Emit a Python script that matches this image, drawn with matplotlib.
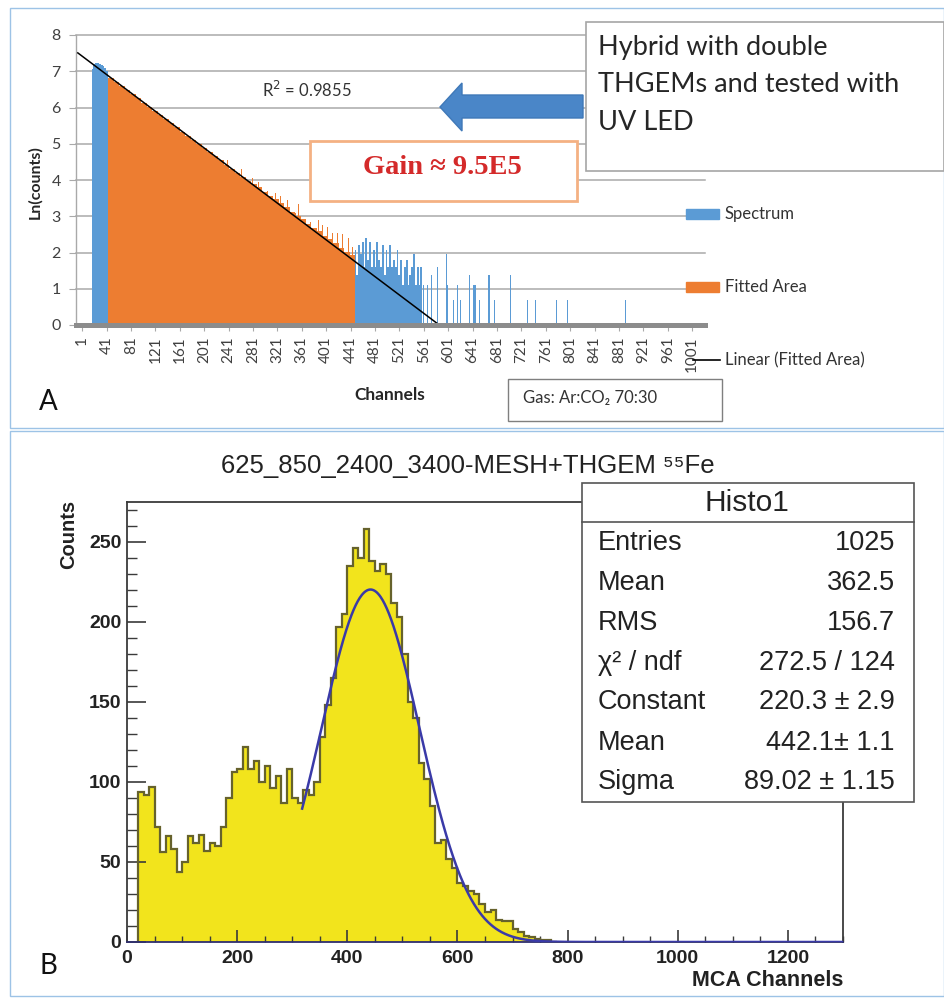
import numpy as np
import matplotlib
matplotlib.use("Agg")
import matplotlib.pyplot as plt
from matplotlib.patches import Rectangle, Polygon
from matplotlib.lines import Line2D

# ---------------- Panel A data (ln(counts) per MCA channel) ----------------
head_channels = [18, 21, 24, 27, 30, 33, 36, 39, 42]
head_values = [7.05, 7.20, 7.23, 7.22, 7.20, 7.18, 7.15, 7.10, 7.02]

fitted_start = 44
fitted_bin = 9
fitted_values = [6.82, 6.70, 6.59, 6.47, 6.36, 6.25, 6.13, 6.02, 5.90, 5.79,
                 5.68, 5.56, 5.45, 5.33, 5.22, 5.11, 4.99, 4.88, 4.76, 4.65,
                 4.54, 4.42, 4.31, 4.19, 4.08, 3.97, 3.90, 3.80, 3.68, 3.56,
                 3.48, 3.36, 3.26, 3.12, 3.02, 2.92, 2.80, 2.68, 2.58, 2.45,
                 2.36, 2.25, 2.12, 2.02, 1.92]
fitted_spike_channels = [240, 262, 281, 290, 305, 318, 326, 338, 350, 356,
                         368, 376, 388, 395, 404, 412, 420, 428, 437, 445]
fitted_spike_values = [4.55, 4.30, 4.05, 3.95, 3.70, 3.65, 3.55, 3.45, 3.10, 3.35,
                       2.95, 2.85, 2.90, 2.75, 2.70, 2.55, 2.55, 2.50, 2.40, 2.15]

tail_start = 449
tail_step = 3
tail_values = [2.08, 1.39, 2.20, 1.95, 2.30, 1.61, 2.40, 1.79, 2.30, 1.61,
               2.08, 1.61, 2.30, 1.79, 1.61, 2.20, 1.39, 2.08, 1.61, 2.20,
               1.61, 1.79, 1.61, 2.08, 1.39, 1.79, 1.10, 1.61, 1.79, 1.10,
               1.39, 1.61, 1.95, 1.10, 1.61, 1.10, 1.61]
sparse_channels = [560, 567, 574, 583, 598, 600, 610, 616, 621, 636, 642,
                   645, 653, 668, 677, 703, 731, 744, 779, 796, 891]
sparse_values = [1.10, 1.10, 1.39, 1.61, 1.95, 1.10, 0.69, 1.10, 0.69, 1.39, 1.10,
                 1.10, 0.69, 1.39, 0.69, 1.39, 0.69, 0.69, 0.69, 0.69, 0.69]

fit_slope = -0.01267
fit_intercept = 7.43
r_squared = 0.9855
xtick_channels = list(range(1, 1002, 40))

# ---------------- Panel B data (55Fe spectrum) ----------------
hist_start = 20
hist_bin = 10
hist_counts = [94, 92, 97, 72, 56, 66, 58, 44, 50, 66,
               62, 67, 57, 62, 60, 72, 90, 106, 108, 122,
               108, 113, 100, 110, 96, 104, 87, 108, 90, 87,
               95, 92, 100, 128, 148, 165, 197, 205, 235, 246,
               240, 258, 238, 232, 236, 230, 212, 203, 180, 150,
               140, 112, 102, 85, 62, 64, 52, 46, 37, 35,
               32, 30, 24, 19, 20, 14, 13, 13, 8, 6,
               4, 3, 2, 1, 1, 0]
gauss_const = 220.3
gauss_mean = 442.1
gauss_sigma = 89.02
gauss_from = 318
stats_names = ["Entries", "Mean", "RMS", "\u03c7\u00b2 / ndf", "Constant", "Mean", "Sigma"]
stats_vals = ["1025", "362.5", "156.7", "272.5 / 124", "220.3 \u00b1 2.9",
              "442.1\u00b1 1.1", "89.02 \u00b1 1.15"]

# ---------------- figure ----------------
W, H = 945, 1000
fig = plt.figure(figsize=(W / 100, H / 100), dpi=100)
fig.patch.set_facecolor("white")


def fx(p):
    return p / W


def fy(p):
    return 1 - p / H


BLUE = "#5b9bd5"
ORANGE = "#ed7d31"
GRID = "#a9a9a9"
FA = ["Lato", "DejaVu Sans"]
FB = ["Liberation Sans", "DejaVu Sans"]

# panel frames
fig.patches.append(Rectangle((fx(10), fy(428)), fx(944) - fx(10), (428 - 8) / H,
                             transform=fig.transFigure, fill=False,
                             edgecolor="#9dc3e6", lw=1.0, zorder=0.5))
fig.patches.append(Rectangle((fx(10), fy(996)), fx(944) - fx(10), (996 - 431) / H,
                             transform=fig.transFigure, fill=False,
                             edgecolor="#9dc3e6", lw=1.0, zorder=0.5))

# ---------------- Panel A ----------------
axA = fig.add_axes([fx(76), fy(325), fx(705) - fx(76), fy(35) - fy(325)])
axA.set_xlim(-9, 1022)
axA.set_ylim(0, 8)
for g in range(1, 9):
    axA.axhline(g, color=GRID, lw=1.1, zorder=0.5, clip_on=False)

axA.bar(head_channels, head_values, width=3, color=BLUE, lw=0, zorder=1)
fit_centers = [fitted_start + fitted_bin * (k + 0.5) for k in range(len(fitted_values))]
axA.bar(fit_centers, fitted_values, width=fitted_bin, color=ORANGE, lw=0, zorder=1)
axA.bar(fitted_spike_channels, fitted_spike_values, width=1.6, color=ORANGE, lw=0, zorder=1)
tail_centers = [tail_start + tail_step * k for k in range(len(tail_values))]
axA.bar(tail_centers, tail_values, width=tail_step, color=BLUE, lw=0, zorder=1)
axA.bar(sparse_channels, sparse_values, width=1.8, color=BLUE, lw=0, zorder=1)

x_zero = -fit_intercept / fit_slope
xl = np.array([-6.0, x_zero])
axA.plot(xl, fit_intercept + fit_slope * xl, color="black", lw=1.1, zorder=3)

for s in ["top", "right"]:
    axA.spines[s].set_visible(False)
axA.spines["left"].set_color(GRID)
axA.spines["left"].set_linewidth(1.0)
axA.spines["bottom"].set_color("#8c8c8c")
axA.spines["bottom"].set_linewidth(3.6)
axA.spines["bottom"].set_zorder(4)
axA.set_yticks(range(0, 9))
axA.set_yticklabels([str(v) for v in range(0, 9)], fontfamily=FA, fontsize=11.5, color="#404040")
axA.set_xticks(xtick_channels)
axA.set_xticklabels([str(c) for c in xtick_channels], rotation=90, fontfamily=FA,
                    fontsize=11, color="#404040")
axA.tick_params(axis="y", length=5, color=GRID, pad=6)
axA.tick_params(axis="x", length=4, color=GRID, pad=4)
axA.set_facecolor("none")

fig.text(fx(35), fy(182), "Ln(counts)", rotation=90, ha="center", va="center",
         fontsize=11.5, fontweight="bold", family=FA, color="#262626")
fig.text(fx(390), fy(395), "Channels", ha="center", va="center",
         fontsize=12.5, fontweight="bold", family=FA, color="#262626")
fig.text(fx(48), fy(402), "A", ha="center", va="center", fontsize=20, family=FA, color="#111111")
fig.text(fx(307), fy(90), "R$^2$ = %.4f" % r_squared, ha="center", va="center",
         fontsize=12, family=FA, color="#333333")

# legend (manual, right of the plot)
fig.patches.append(Rectangle((fx(686), fy(219)), fx(719) - fx(686), 10 / H,
                             transform=fig.transFigure, color=BLUE, zorder=2))
fig.patches.append(Rectangle((fx(686), fy(292)), fx(719) - fx(686), 10 / H,
                             transform=fig.transFigure, color=ORANGE, zorder=2))
fig.lines.append(Line2D([fx(693), fx(720)], [fy(360), fy(360)], transform=fig.transFigure,
                        color="black", lw=1.2))
for yy, lab in [(214, "Spectrum"), (287, "Fitted Area"), (360, "Linear (Fitted Area)")]:
    fig.text(fx(725), fy(yy), lab, ha="left", va="center", fontsize=12, family=FA, color="#333333")

# "Hybrid" note box
fig.patches.append(Rectangle((fx(586), fy(171)), fx(944) - fx(586), (171 - 22) / H,
                             transform=fig.transFigure, facecolor="white",
                             edgecolor="#a6a6a6", lw=1.2, zorder=2))
for yy, line in [(48, "Hybrid with double"), (85, "THGEMs and tested with"), (122, "UV LED")]:
    fig.text(fx(598), fy(yy), line, ha="left", va="center", fontsize=19.5, family=FA,
             color="#262626", zorder=3)

# blue block arrow
arrow_px = [(583, 95), (462, 95), (462, 83), (440, 107), (462, 131), (462, 118), (583, 118)]
fig.patches.append(Polygon([(fx(a), fy(b)) for a, b in arrow_px], closed=True,
                           transform=fig.transFigure, facecolor="#4a86c8",
                           edgecolor="#3f78b8", lw=1.0, zorder=2))

# Gain box
fig.patches.append(Rectangle((fx(310), fy(201)), fx(577) - fx(310), (201 - 141) / H,
                             transform=fig.transFigure, facecolor="white",
                             edgecolor="#f4b183", lw=2.0, zorder=2))
fig.text(fx(442), fy(168), "Gain \u2248 9.5E5", ha="center", va="center", fontsize=20.5,
         fontweight="bold", family=["Liberation Serif", "DejaVu Serif"], color="#d42a2a", zorder=3)

# Gas box
fig.patches.append(Rectangle((fx(508), fy(421)), fx(722) - fx(508), (421 - 379) / H,
                             transform=fig.transFigure, facecolor="white",
                             edgecolor="#7f7f7f", lw=1.0, zorder=2))
fig.text(fx(523), fy(398), "Gas: Ar:CO\u2082 70:30", ha="left", va="center", fontsize=12,
         family=FA, color="#333333", zorder=3)

# ---------------- Panel B ----------------
axB = fig.add_axes([fx(127), fy(942), fx(843) - fx(127), fy(502) - fy(942)])
axB.set_xlim(0, 1300)
axB.set_ylim(0, 275)
edges = hist_start + hist_bin * np.arange(len(hist_counts) + 1)
axB.stairs(hist_counts, edges, fill=True, color="#f2e41c", zorder=1)
axB.stairs(hist_counts, edges, color="#66622c", lw=1.6, zorder=2)
gx = np.linspace(gauss_from, 1300, 800)
gy = gauss_const * np.exp(-0.5 * ((gx - gauss_mean) / gauss_sigma) ** 2)
axB.plot(gx, gy, color="#3a3aa8", lw=1.8, zorder=3)

for s in axB.spines.values():
    s.set_color("#3a3a3a")
    s.set_linewidth(1.3)
axB.spines["bottom"].set_color("#2e2e6e")
axB.set_xticks(range(0, 1300, 200))
axB.set_xticks(range(0, 1301, 50), minor=True)
axB.set_yticks(range(0, 276, 50))
axB.set_yticks(range(0, 276, 10), minor=True)
axB.tick_params(axis="x", which="major", direction="in", length=8.5, width=1.2,
                color="#3a3a3a", pad=6)
axB.tick_params(axis="x", which="minor", direction="in", length=4.3, width=1.0, color="#3a3a3a")
axB.tick_params(axis="y", which="major", direction="in", length=14, width=1.2,
                color="#3a3a3a", pad=4)
axB.tick_params(axis="y", which="minor", direction="in", length=7, width=1.0, color="#3a3a3a")
for lab in axB.get_xticklabels() + axB.get_yticklabels():
    lab.set_fontfamily(FB)
    lab.set_fontweight("bold")
    lab.set_fontsize(14)
    lab.set_color("#222222")

fig.text(fx(468), fy(466), "625_850_2400_3400-MESH+THGEM \u2075\u2075Fe", ha="center", va="center",
         fontsize=18.5, family=FB, color="#222222")
fig.text(fx(69), fy(500), "Counts", rotation=90, ha="center", va="top",
         fontsize=14.5, fontweight="bold", family=FB, color="#222222")
fig.text(fx(843), fy(980), "MCA Channels", ha="right", va="center",
         fontsize=15.5, fontweight="bold", family=FB, color="#222222")
fig.text(fx(48), fy(966), "B", ha="center", va="center", fontsize=20, family=FA, color="#111111")

# stats box
fig.patches.append(Rectangle((fx(582), fy(802)), fx(914) - fx(582), (802 - 483) / H,
                             transform=fig.transFigure, facecolor="white",
                             edgecolor="#555555", lw=1.2, zorder=2))
fig.lines.append(Line2D([fx(582), fx(914)], [fy(522), fy(522)], transform=fig.transFigure,
                        color="#555555", lw=1.2, zorder=2.5))
fig.text(fx(747), fy(503), "Histo1", ha="center", va="center", fontsize=21.5, family=FB,
         color="#222222", zorder=3)
row_y = [543, 583, 623, 663, 702, 743, 782]
for yy, nm, vl in zip(row_y, stats_names, stats_vals):
    fig.text(fx(598), fy(yy), nm, ha="left", va="center", fontsize=19.5, family=FB,
             color="#222222", zorder=3)
    fig.text(fx(895), fy(yy), vl, ha="right", va="center", fontsize=19.5, family=FB,
             color="#222222", zorder=3)

fig.savefig("out.png", dpi=100)
